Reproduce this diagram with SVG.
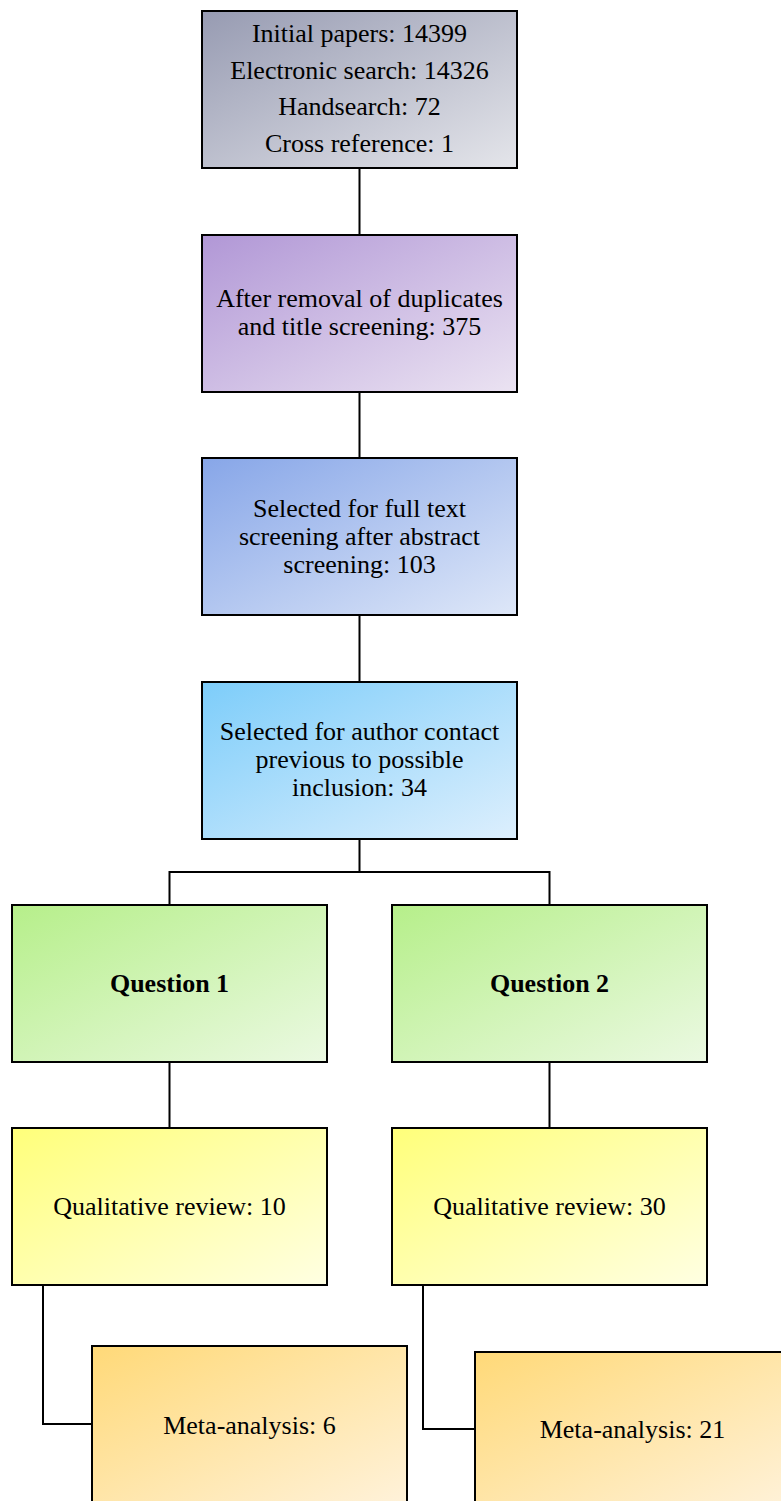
<svg xmlns="http://www.w3.org/2000/svg" width="781" height="1501" viewBox="0 0 781 1501">
<style>
.box{stroke:#000;stroke-width:2}
.t{font-family:"Liberation Serif","Times New Roman",serif;font-size:26px;fill:#000;text-anchor:middle}
.b{font-weight:bold}
.ln{fill:none;stroke:#000;stroke-width:2}
</style>
<defs>
<linearGradient id="g1" x1="0" y1="0" x2="1" y2="1"><stop offset="0" stop-color="#979bb2"/><stop offset="1" stop-color="#e4e5ea"/></linearGradient>
<linearGradient id="g2" x1="0" y1="0" x2="1" y2="1"><stop offset="0" stop-color="#b197d6"/><stop offset="1" stop-color="#ebe3f2"/></linearGradient>
<linearGradient id="g3" x1="0" y1="0" x2="1" y2="1"><stop offset="0" stop-color="#87a6e8"/><stop offset="1" stop-color="#dee7f8"/></linearGradient>
<linearGradient id="g4" x1="0" y1="0" x2="1" y2="1"><stop offset="0" stop-color="#7dcdfa"/><stop offset="1" stop-color="#ddeffd"/></linearGradient>
<linearGradient id="g5" x1="0" y1="0" x2="1" y2="1"><stop offset="0" stop-color="#b6ef8a"/><stop offset="1" stop-color="#ebf9e2"/></linearGradient>
<linearGradient id="g6" x1="0" y1="0" x2="1" y2="1"><stop offset="0" stop-color="#ffff7a"/><stop offset="1" stop-color="#ffffe2"/></linearGradient>
<linearGradient id="g7" x1="0" y1="0" x2="1" y2="1"><stop offset="0" stop-color="#ffd978"/><stop offset="1" stop-color="#fff2da"/></linearGradient>
</defs>
<g id="connectors">
<path class="ln" d="M359.5 168V236M359.5 391V459M359.5 614V683M359.5 838V872M169.5 872H549.5M169.5 871V906M549.5 871V906M169.5 1061V1129M549.5 1061V1129"/>
<path class="ln" d="M43 1284V1424H93"/>
<path class="ln" d="M423 1284V1429H476"/>
</g>
<g id="n1"><rect class="box" x="202" y="11" width="315" height="157" fill="url(#g1)"/>
<text class="t" x="359.5" y="42">Initial papers: 14399</text>
<text class="t" x="359.5" y="78.5">Electronic search: 14326</text>
<text class="t" x="359.5" y="115">Handsearch: 72</text>
<text class="t" x="359.5" y="152">Cross reference: 1</text></g>
<g id="n2"><rect class="box" x="202" y="235" width="315" height="157" fill="url(#g2)"/>
<text class="t" x="359.5" y="307">After removal of duplicates</text>
<text class="t" x="359.5" y="335">and title screening: 375</text></g>
<g id="n3"><rect class="box" x="202" y="458" width="315" height="157" fill="url(#g3)"/>
<text class="t" x="359.5" y="517">Selected for full text</text>
<text class="t" x="359.5" y="545">screening after abstract</text>
<text class="t" x="359.5" y="573">screening: 103</text></g>
<g id="n4"><rect class="box" x="202" y="682" width="315" height="157" fill="url(#g4)"/>
<text class="t" x="359.5" y="740">Selected for author contact</text>
<text class="t" x="359.5" y="768">previous to possible</text>
<text class="t" x="359.5" y="796">inclusion: 34</text></g>
<g id="q1"><rect class="box" x="12" y="905" width="315" height="157" fill="url(#g5)"/>
<text class="t b" x="169.5" y="992">Question 1</text></g>
<g id="q2"><rect class="box" x="392" y="905" width="315" height="157" fill="url(#g5)"/>
<text class="t b" x="549.5" y="992">Question 2</text></g>
<g id="r1"><rect class="box" x="12" y="1128" width="315" height="157" fill="url(#g6)"/>
<text class="t" x="169.5" y="1215">Qualitative review: 10</text></g>
<g id="r2"><rect class="box" x="392" y="1128" width="315" height="157" fill="url(#g6)"/>
<text class="t" x="549.5" y="1215">Qualitative review: 30</text></g>
<g id="m1"><rect class="box" x="92" y="1346" width="315" height="157" fill="url(#g7)"/>
<text class="t" x="249.5" y="1434">Meta-analysis: 6</text></g>
<g id="m2"><rect class="box" x="475" y="1352" width="315" height="157" fill="url(#g7)"/>
<text class="t" x="632.5" y="1438">Meta-analysis: 21</text></g>
</svg>
